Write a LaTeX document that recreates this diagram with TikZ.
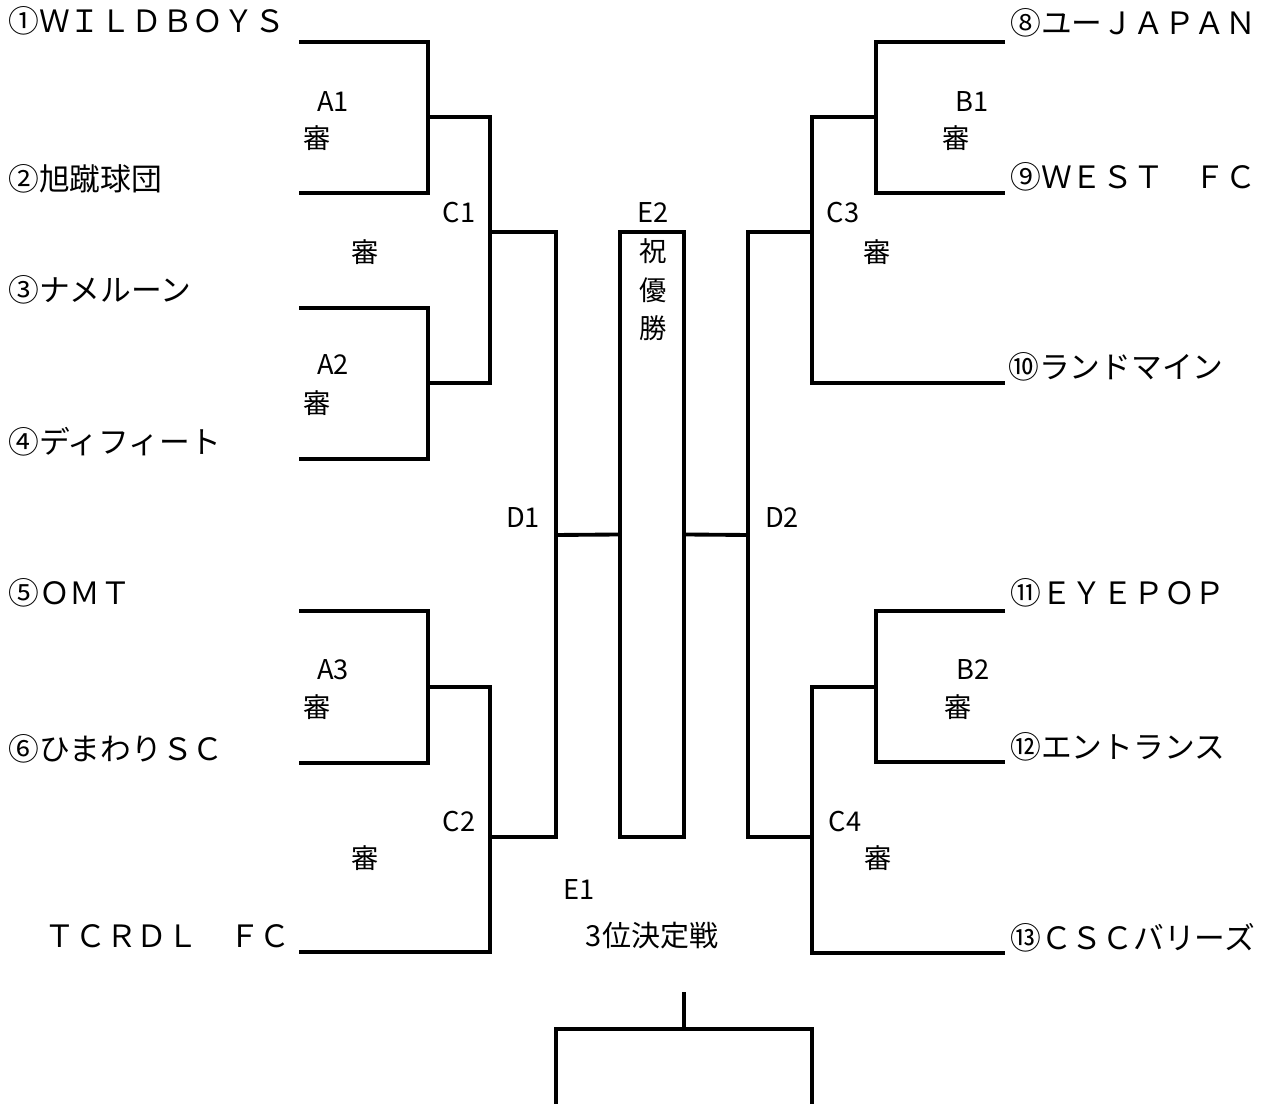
\documentclass[tikz,border=0pt]{standalone}
\usepackage{fontspec}
\setmainfont{Noto Sans CJK JP}

\begin{document}
\begin{tikzpicture}[x=0.02cm, y=-0.02cm,
      line/.style={line width=2.2pt},
      team/.style={anchor=west, inner sep=0pt, font=\fontsize{17.5}{21}\selectfont},
      lbl/.style={inner sep=0pt, font=\fontsize{15.5}{19}\selectfont},
      cup/.style={rectangle, draw, line width=2.2pt, inner sep=0pt, minimum width=1.28cm, minimum height=12.1cm}]

      \useasboundingbox (0,0) rectangle (1272,1104);

      % Teams
      \node[team] (n1) at (8,21) {①ＷＩＬＤＢＯＹＳ};
      \node[team] (n2) at (8,179) {②旭蹴球団};
      \node[team] (n3) at (8,290) {③ナメルーン};
      \node[team] (n4) at (8,442) {④ディフィート};
      \node[team] (n5) at (8,593) {⑤ＯＭＴ};
      \node[team] (n6) at (8,749) {⑥ひまわりＳＣ};
      \node[team, anchor=east] (n7) at (291,936) {ＴＣＲＤＬ　ＦＣ};
      \node[team] (n8) at (1010,23) {⑧ユーＪＡＰＡＮ};
      \node[team] (n9) at (1010,177) {⑨ＷＥＳＴ　ＦＣ};
      \node[team] (n10) at (1008,367) {⑩ランドマイン};
      \node[team] (n11) at (1010,593) {⑪ＥＹＥＰＯＰ};
      \node[team] (n12) at (1010,747) {⑫エントランス};
      \node[team] (n13) at (1010,938) {⑬ＣＳＣバリーズ};

      % Bracket points
      \coordinate (t1) at (299,42);   \coordinate (t2) at (299,193);
      \coordinate (t3) at (299,308);  \coordinate (t4) at (299,459);
      \coordinate (t5) at (299,611);  \coordinate (t6) at (299,763);
      \coordinate (t7) at (299,952);
      \coordinate (t8) at (1005,42);  \coordinate (t9) at (1005,193);
      \coordinate (t10) at (1005,383);
      \coordinate (t11) at (1005,611); \coordinate (t12) at (1005,762);
      \coordinate (t13) at (1005,953);
      \coordinate (a1) at (428,117);  \coordinate (a2) at (428,383);
      \coordinate (a3) at (428,687);
      \coordinate (b1) at (876,117);  \coordinate (b2) at (876,687);
      \coordinate (c1) at (490,232);  \coordinate (c2) at (490,837);
      \coordinate (c3) at (812,232);  \coordinate (c4) at (812,837);
      \coordinate (d1) at (556,535);  \coordinate (d2) at (748,535);

      % Final
      \node[cup] (e2) at (652,534.5) {};

      % Left half
      \draw[line] (t1) -| (a1) |- (t2);
      \draw[line] (t3) -| (a2) |- (t4);
      \draw[line] (t5) -| (a3) |- (t6);
      \draw[line] (a1) -| (c1) |- (a2);
      \draw[line] (a3) -| (c2) |- (t7);
      \draw[line] (c1) -| (d1) |- (c2);
      \draw[line] (d1) -- (e2.west);

      % Right half
      \draw[line] (t8) -| (b1) |- (t9);
      \draw[line] (t11) -| (b2) |- (t12);
      \draw[line] (b1) -| (c3) |- (t10);
      \draw[line] (b2) -| (c4) |- (t13);
      \draw[line] (c3) -| (d2) |- (c4);
      \draw[line] (d2) -- (e2.east);

      % Third place
      \coordinate (e1a) at (684,992);
      \coordinate (e1) at (684,1029);
      \coordinate (e1l) at (556,1104);
      \coordinate (e1r) at (812,1104);
      \draw[line] (e1a) -- (e1);
      \draw[line] (e1l) |- (e1) -| (e1r);

      % Match labels
      \node[lbl] (a1lbl) at (333,102) {A1};
      \node[lbl] (a1ref) at (317,138) {審};
      \node[lbl] (a2lbl) at (333,365) {A2};
      \node[lbl] (a2ref) at (317,403) {審};
      \node[lbl] (a3lbl) at (333,670) {A3};
      \node[lbl] (a3ref) at (317,707) {審};
      \node[lbl] (c1lbl) at (459,213) {C1};
      \node[lbl] (c1ref) at (365,252) {審};
      \node[lbl] (c2lbl) at (459,822) {C2};
      \node[lbl] (c2ref) at (365,858) {審};
      \node[lbl] (b1lbl) at (972,102) {B1};
      \node[lbl] (b1ref) at (956,138) {審};
      \node[lbl] (b2lbl) at (973,670) {B2};
      \node[lbl] (b2ref) at (958,707) {審};
      \node[lbl] (c3lbl) at (843,213) {C3};
      \node[lbl] (c3ref) at (877,252) {審};
      \node[lbl] (c4lbl) at (845,822) {C4};
      \node[lbl] (c4ref) at (878,858) {審};
      \node[lbl] (d1lbl) at (523,518) {D1};
      \node[lbl] (d2lbl) at (782,518) {D2};
      \node[lbl] (e2lbl) at (653,213) {E2};
      \node[lbl, align=center, font=\fontsize{15.5}{22}\selectfont] (yusho) at (653,290) {祝\\優\\勝};
      \node[lbl, anchor=west] (e1lbl) at (563,890) {E1};
      \node[lbl, font=\fontsize{16.5}{20}\selectfont] (e1txt) at (652,936) {3位決定戦};
    \end{tikzpicture}
\end{document}
